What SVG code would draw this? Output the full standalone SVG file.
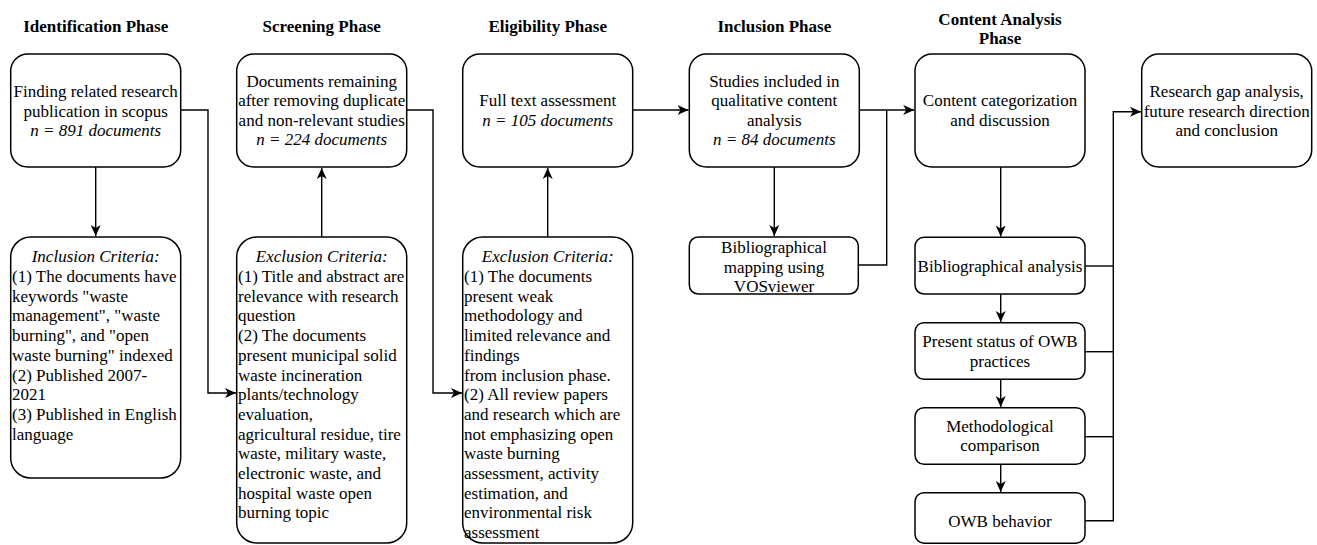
<svg xmlns="http://www.w3.org/2000/svg" width="1317" height="545" viewBox="0 0 1317 545">
<style>
.box{fill:#fff;stroke:#000;stroke-width:1.5}
.hd{font-family:'Liberation Serif','Times New Roman',Tinos,'DejaVu Serif',serif;font-size:17px;font-weight:bold;text-anchor:middle;fill:#000}
.t{font-family:'Liberation Serif','Times New Roman',Tinos,'DejaVu Serif',serif;font-size:17px;fill:#000}
.c{text-anchor:middle}
.i{font-style:italic}
.ln{fill:none;stroke:#000;stroke-width:1.4}
</style>
<defs>
<marker id="ah" markerUnits="userSpaceOnUse" markerWidth="12" markerHeight="12" viewBox="0 0 12 12" refX="11" refY="6" orient="auto">
<path d="M0,1 L11,6 L0,11 L3,6 z" fill="#000"/>
</marker>
</defs>
<g id="headers">
<text class="hd" x="95.7" y="32">Identification Phase</text>
<text class="hd" x="321.7" y="32">Screening Phase</text>
<text class="hd" x="547.7" y="32">Eligibility Phase</text>
<text class="hd" x="774.3" y="32">Inclusion Phase</text>
<text class="hd" x="1000" y="25">Content Analysis</text>
<text class="hd" x="1000" y="44">Phase</text>
</g>
<g id="connectors">
<path class="ln" d="M95.7,167 V236" marker-end="url(#ah)"/>
<path class="ln" d="M180.7,110 H208 V393 H236" marker-end="url(#ah)"/>
<path class="ln" d="M321.7,237 V168" marker-end="url(#ah)"/>
<path class="ln" d="M406.7,110 H433 V393 H462" marker-end="url(#ah)"/>
<path class="ln" d="M547.7,237 V168" marker-end="url(#ah)"/>
<path class="ln" d="M632.7,110 H688.5" marker-end="url(#ah)"/>
<path class="ln" d="M774.3,167 V236" marker-end="url(#ah)"/>
<path class="ln" d="M859.3,110 H914.2" marker-end="url(#ah)"/>
<path class="ln" d="M858.3,265 H886.7 V110"/>
<path class="ln" d="M1000.7,167 V236.5" marker-end="url(#ah)"/>
<path class="ln" d="M1000.7,294 V322" marker-end="url(#ah)"/>
<path class="ln" d="M1000.7,379.3 V407" marker-end="url(#ah)"/>
<path class="ln" d="M1000.7,464.3 V492" marker-end="url(#ah)"/>
<path class="ln" d="M1085,266 H1113.3"/>
<path class="ln" d="M1085,351.7 H1113.3"/>
<path class="ln" d="M1085,436.7 H1113.3"/>
<path class="ln" d="M1085,520.7 H1113.3 V111.7 H1141" marker-end="url(#ah)"/>
</g>
<g id="n1">
<rect class="box" x="10.7" y="54" width="170" height="113" rx="17"/>
<text class="t c" x="95.7" y="97">Finding related research</text>
<text class="t c" x="95.7" y="116.5">publication in scopus</text>
<text class="t c i" x="95.7" y="135.5">n = 891 documents</text>
</g>
<g id="n2">
<rect class="box" x="236.7" y="54" width="170" height="113" rx="17"/>
<text class="t c" x="321.7" y="87">Documents remaining</text>
<text class="t c" x="321.7" y="106.3">after removing duplicate</text>
<text class="t c" x="321.7" y="125.6">and non-relevant studies</text>
<text class="t c i" x="321.7" y="145">n = 224 documents</text>
</g>
<g id="n3">
<rect class="box" x="462.7" y="54" width="170" height="113" rx="17"/>
<text class="t c" x="547.7" y="106">Full text assessment</text>
<text class="t c i" x="547.7" y="125.5">n = 105 documents</text>
</g>
<g id="n4">
<rect class="box" x="689.3" y="54" width="170" height="113" rx="17"/>
<text class="t c" x="774.3" y="87">Studies included in</text>
<text class="t c" x="774.3" y="106.3">qualitative content</text>
<text class="t c" x="774.3" y="125.6">analysis</text>
<text class="t c i" x="774.3" y="145">n = 84 documents</text>
</g>
<g id="n5">
<rect class="box" x="915" y="54" width="170" height="113" rx="17"/>
<text class="t c" x="1000" y="106">Content categorization</text>
<text class="t c" x="1000" y="125.5">and discussion</text>
</g>
<g id="n6">
<rect class="box" x="1141.7" y="54" width="170" height="113" rx="17"/>
<text class="t c" x="1226.7" y="97">Research gap analysis,</text>
<text class="t c" x="1226.7" y="116.5">future research direction</text>
<text class="t c" x="1226.7" y="135.5">and conclusion</text>
</g>
<g id="n7">
<rect class="box" x="10.7" y="237" width="170" height="241" rx="20"/>
<text class="t c i" x="95.7" y="262">Inclusion Criteria:</text>
<text class="t" x="12" y="282">(1) The documents have</text>
<text class="t" x="12" y="301.7">keywords "waste</text>
<text class="t" x="12" y="321.4">management", "waste</text>
<text class="t" x="12" y="341.1">burning", and "open</text>
<text class="t" x="12" y="360.8">waste burning" indexed</text>
<text class="t" x="12" y="380.5">(2) Published 2007-</text>
<text class="t" x="12" y="400.2">2021</text>
<text class="t" x="12" y="419.9">(3) Published in English</text>
<text class="t" x="12" y="439.6">language</text>
</g>
<g id="n8">
<rect class="box" x="236.7" y="237" width="170" height="306" rx="20"/>
<text class="t c i" x="321.7" y="262">Exclusion Criteria:</text>
<text class="t" x="238" y="282">(1) Title and abstract are</text>
<text class="t" x="238" y="301.7">relevance with research</text>
<text class="t" x="238" y="321.4">question</text>
<text class="t" x="238" y="341.1">(2) The documents</text>
<text class="t" x="238" y="360.8">present municipal solid</text>
<text class="t" x="238" y="380.5">waste incineration</text>
<text class="t" x="238" y="400.2">plants/technology</text>
<text class="t" x="238" y="419.9">evaluation,</text>
<text class="t" x="238" y="439.6">agricultural residue, tire</text>
<text class="t" x="238" y="459.3">waste, military waste,</text>
<text class="t" x="238" y="479">electronic waste, and</text>
<text class="t" x="238" y="498.7">hospital waste open</text>
<text class="t" x="238" y="518.4">burning topic</text>
</g>
<g id="n9">
<rect class="box" x="462.7" y="237" width="170" height="306" rx="20"/>
<text class="t c i" x="547.7" y="262">Exclusion Criteria:</text>
<text class="t" x="464" y="282">(1) The documents</text>
<text class="t" x="464" y="301.7">present weak</text>
<text class="t" x="464" y="321.4">methodology and</text>
<text class="t" x="464" y="341.1">limited relevance and</text>
<text class="t" x="464" y="360.8">findings</text>
<text class="t" x="464" y="380.5">from inclusion phase.</text>
<text class="t" x="464" y="400.2">(2) All review papers</text>
<text class="t" x="464" y="419.9">and research which are</text>
<text class="t" x="464" y="439.6">not emphasizing open</text>
<text class="t" x="464" y="459.3">waste burning</text>
<text class="t" x="464" y="479">assessment, activity</text>
<text class="t" x="464" y="498.7">estimation, and</text>
<text class="t" x="464" y="518.4">environmental risk</text>
<text class="t" x="464" y="538.1">assessment</text>
</g>
<g id="n10">
<rect class="box" x="689.3" y="237" width="169" height="57" rx="9"/>
<text class="t c" x="774" y="252.7">Bibliographical</text>
<text class="t c" x="774" y="272.5">mapping using</text>
<text class="t c" x="774" y="292.3">VOSviewer</text>
</g>
<g id="n11">
<rect class="box" x="915" y="237.3" width="170" height="56.7" rx="9"/>
<text class="t c" x="1000" y="271.7">Bibliographical analysis</text>
</g>
<g id="n12">
<rect class="box" x="915" y="322.7" width="170" height="56.6" rx="9"/>
<text class="t c" x="1000" y="347.3">Present status of OWB</text>
<text class="t c" x="1000" y="366.7">practices</text>
</g>
<g id="n13">
<rect class="box" x="915" y="407.7" width="170" height="56.6" rx="9"/>
<text class="t c" x="1000" y="431.7">Methodological</text>
<text class="t c" x="1000" y="451.2">comparison</text>
</g>
<g id="n14">
<rect class="box" x="915" y="492.7" width="170" height="50.5" rx="9"/>
<text class="t c" x="1000" y="526.7">OWB behavior</text>
</g>
</svg>
